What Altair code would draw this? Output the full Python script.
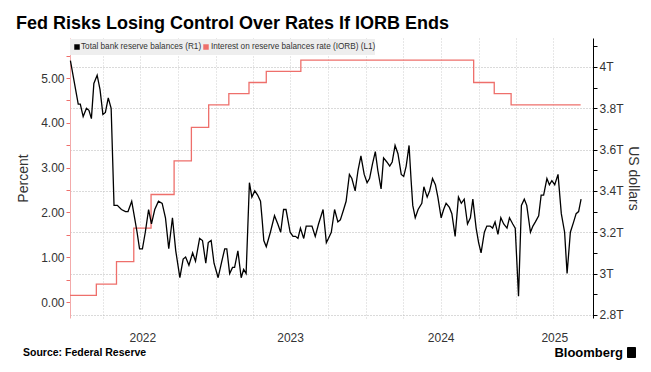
import altair as alt
import pandas as pd

# ---------------- data ----------------
res_dates = [
    "2022-01-13", "2022-02-01", "2022-02-06", "2022-02-13", "2022-02-21", "2022-02-27", "2022-03-05",
    "2022-03-11", "2022-03-19", "2022-03-26", "2022-04-02", "2022-04-08", "2022-04-15", "2022-04-22",
    "2022-04-29", "2022-05-07", "2022-05-17", "2022-05-27", "2022-06-02", "2022-06-11", "2022-06-18",
    "2022-06-24", "2022-06-30", "2022-07-07", "2022-07-14", "2022-07-22", "2022-07-29", "2022-08-06",
    "2022-08-15", "2022-08-24", "2022-09-01", "2022-09-09", "2022-09-18", "2022-09-26", "2022-10-06",
    "2022-10-14", "2022-10-20", "2022-10-28", "2022-11-06", "2022-11-13", "2022-11-23", "2022-11-30",
    "2022-12-08", "2022-12-14", "2022-12-21", "2022-12-28", "2023-01-07", "2023-01-16", "2023-01-23",
    "2023-01-28", "2023-02-04", "2023-02-11", "2023-02-16", "2023-02-24", "2023-03-04", "2023-03-10",
    "2023-03-16", "2023-03-24", "2023-03-30", "2023-04-06", "2023-04-13", "2023-04-20", "2023-04-24",
    "2023-04-28", "2023-05-04", "2023-05-14", "2023-05-24", "2023-06-01", "2023-06-08", "2023-06-15",
    "2023-06-21", "2023-07-01", "2023-07-08", "2023-07-14", "2023-07-20", "2023-07-26", "2023-08-03",
    "2023-08-09", "2023-08-19", "2023-08-23", "2023-08-31", "2023-09-08", "2023-09-19", "2023-09-27",
    "2023-10-02", "2023-10-09", "2023-10-17", "2023-10-25", "2023-10-31", "2023-11-08", "2023-11-14",
    "2023-11-22", "2023-11-28", "2023-12-06", "2023-12-13", "2023-12-20", "2023-12-28", "2024-01-04",
    "2024-01-10", "2024-01-17", "2024-01-24", "2024-01-30", "2024-02-07", "2024-02-13", "2024-02-21",
    "2024-02-28", "2024-03-05", "2024-03-12", "2024-03-19", "2024-03-27", "2024-04-02", "2024-04-08",
    "2024-04-15", "2024-04-20", "2024-04-24", "2024-04-30", "2024-05-07", "2024-05-16", "2024-05-21",
    "2024-05-29", "2024-06-04", "2024-06-11", "2024-06-18", "2024-06-24", "2024-07-02", "2024-07-08",
    "2024-07-14", "2024-07-22", "2024-07-28", "2024-08-05", "2024-08-13", "2024-08-20", "2024-08-27",
    "2024-09-04", "2024-09-11", "2024-09-17", "2024-09-25", "2024-10-01", "2024-10-07", "2024-10-15",
    "2024-10-21", "2024-10-29", "2024-11-04", "2024-11-10", "2024-11-17", "2024-11-24", "2024-12-01",
    "2024-12-09", "2024-12-15", "2024-12-23", "2024-12-29", "2025-01-06", "2025-01-13", "2025-01-20",
    "2025-01-26", "2025-02-04", "2025-02-10", "2025-02-16", "2025-02-24", "2025-03-02", "2025-03-08",
    "2025-03-16", "2025-03-22", "2025-03-28", "2025-04-04", "2025-04-12", "2025-04-20", "2025-04-28",
    "2025-05-04", "2025-05-12", "2025-05-20", "2025-05-26", "2025-06-01", "2025-06-07",
]
# Total bank reserve balances, trillions of US dollars (right axis)
res_values = [
    4.03, 3.82, 3.82, 3.76, 3.80, 3.79, 3.75,
    3.92, 3.96, 3.89, 3.77, 3.78, 3.85, 3.80,
    3.33, 3.33, 3.31, 3.30, 3.30, 3.35, 3.27,
    3.20, 3.12, 3.12, 3.20, 3.31, 3.24, 3.31,
    3.35, 3.34, 3.27, 3.12, 3.27, 3.11, 2.98,
    3.07, 3.08, 3.04, 3.10, 3.06, 3.17, 3.16,
    3.05, 3.15, 3.16, 3.05, 2.98, 3.06, 3.12,
    3.12, 3.00, 3.03, 3.03, 3.11, 2.98, 3.02,
    3.00, 3.44, 3.37, 3.40, 3.38, 3.35, 3.26,
    3.16, 3.13, 3.20, 3.28, 3.24, 3.20, 3.31,
    3.31, 3.20, 3.18, 3.18, 3.17, 3.22, 3.17,
    3.23, 3.23, 3.23, 3.18, 3.24, 3.31, 3.15,
    3.17, 3.20, 3.31, 3.25, 3.26, 3.31, 3.35,
    3.48, 3.46, 3.40, 3.50, 3.57, 3.48, 3.44,
    3.46, 3.53, 3.59, 3.50, 3.41, 3.56, 3.54,
    3.52, 3.54, 3.62, 3.58, 3.48, 3.47, 3.52,
    3.62, 3.45, 3.33, 3.27, 3.31, 3.34, 3.42,
    3.37, 3.40, 3.46, 3.43, 3.37, 3.27, 3.31,
    3.34, 3.32, 3.29, 3.18, 3.37, 3.34, 3.36,
    3.24, 3.27, 3.36, 3.22, 3.15, 3.10, 3.20,
    3.23, 3.23, 3.22, 3.25, 3.19, 3.27, 3.24,
    3.22, 3.27, 3.24, 3.22, 2.89, 3.33, 3.36,
    3.33, 3.20, 3.23, 3.25, 3.28, 3.38, 3.38,
    3.46, 3.43, 3.45, 3.43, 3.48, 3.29, 3.20,
    3.00, 3.20, 3.25, 3.29, 3.30, 3.36,
]

# Interest on reserve balances rate (IORB), percent (left axis), change dates
iorb_dates = [
    "2022-01-12", "2022-03-17", "2022-05-05", "2022-06-16", "2022-07-28", "2022-09-22",
    "2022-11-03", "2022-12-15", "2023-02-02", "2023-03-23", "2023-05-04", "2023-07-27",
    "2024-09-19", "2024-11-08", "2024-12-19", "2025-06-06",
]
iorb_values = [0.15, 0.40, 0.90, 1.65, 2.40, 3.15, 3.90, 4.40, 4.65, 4.90, 5.15, 5.40,
               4.90, 4.65, 4.40, 4.40]

quarter_lines = [
    "2022-04-01", "2022-07-01", "2022-10-01", "2023-01-01", "2023-04-01", "2023-07-01",
    "2023-10-01", "2024-01-01", "2024-04-01", "2024-07-01", "2024-10-01", "2025-01-01",
    "2025-04-01",
]
years = [2022, 2023, 2024, 2025]
pct_ticks = [0.0, 0.5, 1.0, 1.5, 2.0, 2.5, 3.0, 3.5, 4.0, 4.5, 5.0, 5.5]
usd_ticks = [2.8, 2.9, 3.0, 3.1, 3.2, 3.3, 3.4, 3.5, 3.6, 3.7, 3.8, 3.9, 4.0, 4.1]
x_start, x_end = "2022-01-12", "2025-07-06"

title_text = "Fed Risks Losing Control Over Rates If IORB Ends"
legend_labels = ["Total bank reserve balances  (R1)",
                 "Interest on reserve balances rate (IORB)  (L1)"]
source_text = "Source: Federal Reserve"
brand_text = "Bloomberg"

# ---------------- styling ----------------
W, H = 523, 280
RED = "#ee6f6b"
FONT = "Liberation Sans"
TXT = "#333333"


def dt(s):
    t = pd.Timestamp(s)
    return alt.DateTime(year=t.year, month=t.month, date=t.day, utc=True)


res_df = pd.DataFrame({"date": res_dates, "usd": res_values})
iorb_df = pd.DataFrame({"date": iorb_dates, "rate": iorb_values})

xs0, xs1 = pd.Timestamp(x_start), pd.Timestamp(x_end)
mids = []
for y in years:
    a = max(pd.Timestamp(f"{y}-01-01"), xs0)
    b = min(pd.Timestamp(f"{y + 1}-01-01"), xs1)
    mids.append((a + (b - a) / 2).strftime("%Y-%m-%d"))
year_df = pd.DataFrame({"date": mids, "label": [str(y) for y in years]})

x_scale = alt.Scale(domain=[dt(x_start), dt(x_end)])
x_axis = alt.Axis(values=[dt(q) for q in quarter_lines], labels=False, ticks=False,
                  domain=False, title=None, grid=True, gridColor="#cfcfcf",
                  gridDash=[1, 2], gridWidth=1)

left_axis = alt.Axis(
    orient="left", values=pct_ticks, title="Percent",
    labelExpr="datum.value % 1 == 0 ? format(datum.value, '.2f') : ''",
    grid=False, domainColor="#f3aaaa", tickColor=RED, tickSize=4, labelPadding=2,
    labelFont=FONT, labelFontSize=12, labelColor=TXT,
    titleFont=FONT, titleFontSize=14, titleFontWeight="normal", titleColor=TXT,
    titlePadding=10,
)
right_axis = alt.Axis(
    orient="right", values=usd_ticks, title="US dollars",
    labelExpr="round(datum.value * 10) % 2 == 0 ? format(datum.value, '~g') + 'T' : ''",
    grid=True, gridColor="#b5b5b5", gridDash=[1, 2],
    gridOpacity={"condition": {"test": "round(datum.value * 10) % 2 == 0", "value": 1},
                 "value": 0},
    domainColor="black", tickColor="black", tickSize=4, labelPadding=2,
    labelFont=FONT, labelFontSize=12, labelColor=TXT,
    titleFont=FONT, titleFontSize=14, titleFontWeight="normal", titleColor=TXT,
    titlePadding=2,
)

red = alt.Chart(iorb_df).mark_line(color=RED, strokeWidth=1.3, interpolate="step-after").encode(
    x=alt.X("date:T", scale=x_scale, axis=x_axis),
    y=alt.Y("rate:Q", scale=alt.Scale(domain=[-0.357, 5.893], nice=False, zero=False),
            axis=left_axis),
)
black = alt.Chart(res_df).mark_line(color="black", strokeWidth=1.3).encode(
    x=alt.X("date:T", scale=x_scale, axis=x_axis),
    y=alt.Y("usd:Q", scale=alt.Scale(domain=[2.785, 4.14], nice=False, zero=False),
            axis=right_axis),
)

one = pd.DataFrame({"k": [0]})
LFS = 8.2
legend_bg = alt.Chart(one).mark_rect(color="#eeeeee").encode(
    x=alt.value(0), x2=alt.value(305), y=alt.value(1), y2=alt.value(17))
sq_black = alt.Chart(one).mark_square(color="black", size=30, opacity=1).encode(
    x=alt.value(7), y=alt.value(9))
sq_red = alt.Chart(one).mark_square(color=RED, size=30, opacity=1).encode(
    x=alt.value(136), y=alt.value(9))
leg1 = alt.Chart(pd.DataFrame({"t": [legend_labels[0]]})).mark_text(
    align="left", baseline="middle", font=FONT, fontSize=LFS, color=TXT).encode(
    x=alt.value(11), y=alt.value(9), text="t:N")
leg2 = alt.Chart(pd.DataFrame({"t": [legend_labels[1]]})).mark_text(
    align="left", baseline="middle", font=FONT, fontSize=LFS, color=TXT).encode(
    x=alt.value(141), y=alt.value(9), text="t:N")

year_text = alt.Chart(year_df).mark_text(
    align="center", baseline="middle", font=FONT, fontSize=12, color=TXT).encode(
    x=alt.X("date:T", scale=x_scale, axis=x_axis), y=alt.value(300), text="label:N")

title = alt.Chart(pd.DataFrame({"t": [title_text]})).mark_text(
    align="left", baseline="alphabetic", font=FONT, fontSize=18, fontWeight="bold",
    color="black").encode(x=alt.value(-54), y=alt.value(-9), text="t:N")
source = alt.Chart(pd.DataFrame({"t": [source_text]})).mark_text(
    align="left", baseline="middle", font=FONT, fontSize=10.5, fontWeight="bold",
    color="black").encode(x=alt.value(-47), y=alt.value(315), text="t:N")
brand = alt.Chart(pd.DataFrame({"t": [brand_text]})).mark_text(
    align="right", baseline="middle", font=FONT, fontSize=13, fontWeight="bold",
    color="black").encode(x=alt.value(553), y=alt.value(315), text="t:N")
brand_icon = alt.Chart(one).mark_rect(color="black", cornerRadius=1).encode(
    x=alt.value(557), x2=alt.value(566), y=alt.value(309), y2=alt.value(320))

chart = alt.layer(
    red, black, legend_bg, sq_black, sq_red, leg1, leg2, year_text,
    title, source, brand, brand_icon,
).resolve_scale(y="independent").properties(
    width=W, height=H,
    padding={"left": 62, "top": 30, "right": 50, "bottom": 46},
    autosize=alt.AutoSizeParams(type="none"),
    background="white",
).configure_view(stroke=None)

chart.save("out.html", embed_options={"renderer": "svg", "actions": False})
